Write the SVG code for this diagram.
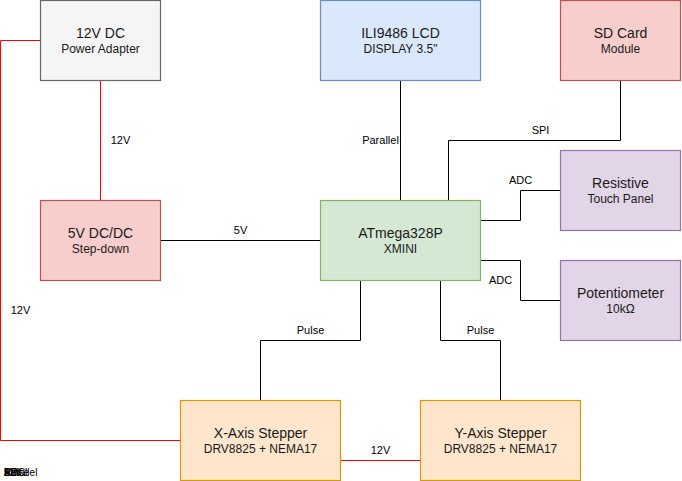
<svg xmlns="http://www.w3.org/2000/svg" width="682" height="481" viewBox="0 0 682 481">
<style>
text{font-family:"Liberation Sans",Arial,sans-serif;fill:#1a1a1a;text-anchor:middle}
.t{font-size:14px}.s{font-size:12px}.l{font-size:11px;fill:#000}
.n{stroke-width:1.2}
.k{fill:none;stroke:#000;stroke-width:1}
.r{fill:none;stroke:#ff0000;stroke-width:1}
.o{text-anchor:start;font-size:10px;fill:#000}
</style>
<rect width="682" height="481" fill="#fff"/>
<g id="connectors">
<path class="r" d="M40.500 40.500H0.500V440.500H180"/>
<path class="r" d="M100.500 80V200"/>
<path class="r" d="M340 460.500H420"/>
<path class="k" d="M160 240.500H320"/>
<path class="k" d="M400.500 80V200"/>
<path class="k" d="M620.500 80V140.500H448.500V200"/>
<path class="k" d="M480 220.500H520.500V190.500H560"/>
<path class="k" d="M480 260.500H520.500V300.500H560"/>
<path class="k" d="M360.500 280V340.500H260.500V400"/>
<path class="k" d="M440.500 280V340.500H500.500V400"/>
</g>
<g id="edge-labels">
<text class="l" x="120.500" y="144">12V</text>
<text class="l" x="240.500" y="234">5V</text>
<text class="l" x="380.500" y="144">Parallel</text>
<text class="l" x="540.500" y="134">SPI</text>
<text class="l" x="520.500" y="184">ADC</text>
<text class="l" x="500.500" y="284">ADC</text>
<text class="l" x="310.500" y="334">Pulse</text>
<text class="l" x="480.500" y="334">Pulse</text>
<text class="l" x="20.500" y="314">12V</text>
<text class="l" x="380.500" y="454">12V</text>
</g>
<g id="stacked-labels">
<text class="o" x="4" y="476">12V</text>
<text class="o" x="4" y="476">5V</text>
<text class="o" x="4" y="476">Parallel</text>
<text class="o" x="4" y="476">SPI</text>
<text class="o" x="4" y="476">ADC</text>
<text class="o" x="4" y="476">Pulse</text>
</g>
<g id="power"><rect class="n" x="40.500" y="0.500" width="120" height="80" fill="#f5f5f5" stroke="#666"/><text class="t" x="100.500" y="38">12V DC</text><text class="s" x="100.500" y="53">Power Adapter</text></g>
<g id="buck"><rect class="n" x="40.500" y="200.500" width="120" height="80" fill="#f8cecc" stroke="#b85450"/><text class="t" x="100.500" y="238">5V DC/DC</text><text class="s" x="100.500" y="253">Step-down</text></g>
<g id="lcd"><rect class="n" x="320.500" y="0.500" width="160" height="80" fill="#dae8fc" stroke="#6c8ebf"/><text class="t" x="400.500" y="38">ILI9486 LCD</text><text class="s" x="400.500" y="53">DISPLAY 3.5"</text></g>
<g id="sd"><rect class="n" x="560.500" y="0.500" width="120" height="80" fill="#f8cecc" stroke="#b85450"/><text class="t" x="620.500" y="38">SD Card</text><text class="s" x="620.500" y="53">Module</text></g>
<g id="mcu"><rect class="n" x="320.500" y="200.500" width="160" height="80" fill="#d5e8d4" stroke="#82b366"/><text class="t" x="400.500" y="238">ATmega328P</text><text class="s" x="400.500" y="253">XMINI</text></g>
<g id="touch"><rect class="n" x="560.500" y="150.500" width="120" height="80" fill="#e1d5e7" stroke="#9673a6"/><text class="t" x="620.500" y="188">Resistive</text><text class="s" x="620.500" y="203">Touch Panel</text></g>
<g id="pot"><rect class="n" x="560.500" y="260.500" width="120" height="80" fill="#e1d5e7" stroke="#9673a6"/><text class="t" x="620.500" y="298">Potentiometer</text><text class="s" x="620.500" y="313">10kΩ</text></g>
<g id="x"><rect class="n" x="180.500" y="400.500" width="160" height="80" fill="#ffe6cc" stroke="#d79b00"/><text class="t" x="260.500" y="438">X-Axis Stepper</text><text class="s" x="260.500" y="453">DRV8825 + NEMA17</text></g>
<g id="y"><rect class="n" x="420.500" y="400.500" width="160" height="80" fill="#ffe6cc" stroke="#d79b00"/><text class="t" x="500.500" y="438">Y-Axis Stepper</text><text class="s" x="500.500" y="453">DRV8825 + NEMA17</text></g>
</svg>
